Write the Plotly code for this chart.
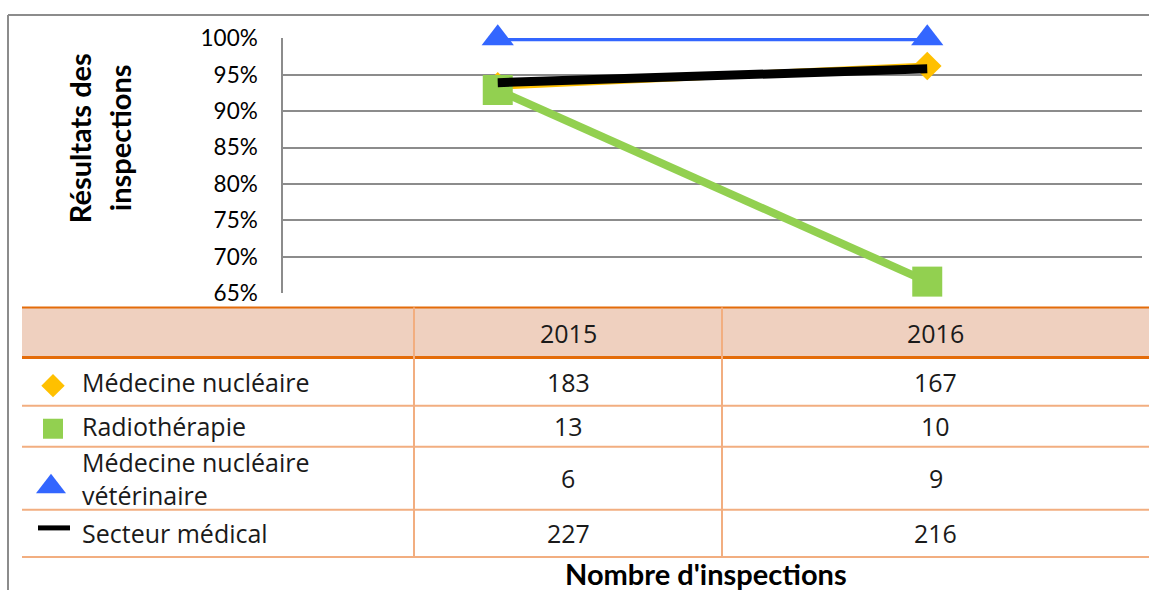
import plotly.graph_objects as go

# ---------------- data ----------------
years = ["2015", "2016"]
series_labels = ["Médecine nucléaire", "Radiothérapie",
                 "Médecine nucléaire<br>vétérinaire", "Secteur médical"]
med_nuc_pct = [93.4, 96.2]
radio_pct = [92.9, 66.6]
veto_pct = [100.0, 100.0]
secteur_pct = [93.9, 95.8]
med_nuc_n = [183, 167]
radio_n = [13, 10]
veto_n = [6, 9]
secteur_n = [227, 216]
y_ticks = [65, 70, 75, 80, 85, 90, 95, 100]
y_title_lines = ["Résultats des", "inspections"]
x_title = "Nombre d'inspections"

# ---------------- layout constants (pixels of the target picture) ----------------
W = 1149
HF, OFF = 570, 14          # rendered figure height and its vertical offset in the picture
PX0, PX1, PY_TOP, PY_BOT = 283, 1142, 38, 293
TBL_X0, COL1, COL2, TBL_X1 = 22, 414, 722, 1149
ROW_Y = [307, 357, 405, 446, 509, 556]

YELLOW, GREEN, BLUE, BLACK = "#FFC000", "#92D050", "#3366FF", "#000000"
ORANGE, ORANGE_LIGHT, HEADER_FILL = "#E46C0A", "#F2AE80", "#EFD0BF"
GRID = "#8C8C8C"


def fx(px):
    return px / W


def fy(py):
    return 1 - (py - OFF) / HF


fig = go.Figure()

line_series = [
    (series_labels[0], med_nuc_pct, YELLOW, 7, "diamond", 22),
    (series_labels[1], radio_pct, GREEN, 8, "square", 30),
    (series_labels[2], veto_pct, BLUE, 6, "triangle-up", 28),
]
for name, vals, col, lw, sym, ms in line_series:
    fig.add_trace(go.Scatter(
        x=years, y=vals, mode="lines+markers", name=name,
        line=dict(color=col, width=lw),
        marker=dict(symbol=sym, size=ms, color=col),
        cliponaxis=False, showlegend=False, xaxis="x", yaxis="y"))
fig.add_trace(go.Scatter(
    x=years, y=secteur_pct, mode="lines", name=series_labels[3],
    line=dict(color=BLACK, width=9), cliponaxis=False,
    showlegend=False, xaxis="x", yaxis="y"))

# legend icons inside the table (overlay pixel axes)
icon_specs = [
    ("diamond", YELLOW, 18, 53, 385),
    ("square", GREEN, 20, 53, 428),
    ("triangle-up", BLUE, 26, 51, 486),
]
for sym, col, ms, ix, iy in icon_specs:
    fig.add_trace(go.Scatter(
        x=[ix], y=[iy], mode="markers",
        marker=dict(symbol=sym, size=ms, color=col),
        hoverinfo="skip", showlegend=False, cliponaxis=False,
        xaxis="x2", yaxis="y2"))
fig.add_trace(go.Scatter(
    x=[38, 70], y=[527, 527], mode="lines", line=dict(color=BLACK, width=5),
    hoverinfo="skip", showlegend=False, cliponaxis=False,
    xaxis="x2", yaxis="y2"))

shapes = []
# outer frame (top edge sits at the first visible row)
shapes.append(dict(type="line", xref="paper", yref="paper",
                   x0=fx(8), x1=fx(W + 5), y0=fy(OFF + 1), y1=fy(OFF + 1),
                   line=dict(color=GRID, width=2)))
shapes.append(dict(type="line", xref="paper", yref="paper",
                   x0=fx(8), x1=fx(8), y0=fy(OFF + 1), y1=fy(OFF + HF + 5),
                   line=dict(color=GRID, width=2)))
# header fill
shapes.append(dict(type="rect", xref="paper", yref="paper",
                   x0=fx(TBL_X0), x1=fx(TBL_X1 + 5), y0=fy(ROW_Y[0]), y1=fy(ROW_Y[1]),
                   fillcolor=HEADER_FILL, line=dict(width=0), layer="below"))
# row lines
for i, ry in enumerate(ROW_Y):
    if i == 0:
        col, w = ORANGE, 2
    elif i == 1:
        col, w = ORANGE, 3
    else:
        col, w = ORANGE_LIGHT, 2
    shapes.append(dict(type="line", xref="paper", yref="paper",
                       x0=fx(TBL_X0), x1=fx(TBL_X1 + 5), y0=fy(ry), y1=fy(ry),
                       line=dict(color=col, width=w)))
# column lines
for cx in (COL1, COL2):
    shapes.append(dict(type="line", xref="paper", yref="paper",
                       x0=fx(cx), x1=fx(cx), y0=fy(ROW_Y[0]), y1=fy(ROW_Y[-1]),
                       line=dict(color=ORANGE_LIGHT, width=2)))

annotations = []
TFONT = dict(family="Open Sans", size=25, color="#1a1a1a")
col_centers = [(COL1 + COL2) / 2, (COL2 + TBL_X1) / 2]
# header years
for yr, cxc in zip(years, col_centers):
    annotations.append(dict(text=yr, xref="paper", yref="paper",
                            x=fx(cxc), y=fy((ROW_Y[0] + ROW_Y[1]) / 2),
                            showarrow=False, xanchor="center", yanchor="middle",
                            font=TFONT))
counts = [med_nuc_n, radio_n, veto_n, secteur_n]
for r, (label, vals) in enumerate(zip(series_labels, counts)):
    cy = (ROW_Y[r + 1] + ROW_Y[r + 2]) / 2
    annotations.append(dict(text=label, xref="paper", yref="paper",
                            x=fx(80), y=fy(cy), showarrow=False,
                            xanchor="left", yanchor="middle", align="left",
                            font=TFONT))
    for v, cxc in zip(vals, col_centers):
        annotations.append(dict(text=str(v), xref="paper", yref="paper",
                                x=fx(cxc), y=fy(cy), showarrow=False,
                                xanchor="center", yanchor="middle", font=TFONT))
# titles
annotations.append(dict(text="<b>%s</b>" % x_title, xref="paper", yref="paper",
                        x=fx(706), y=fy(573), showarrow=False,
                        xanchor="center", yanchor="middle",
                        font=dict(family="Lato", size=29, color="#000000")))
for t, lx in zip(y_title_lines, (79, 119)):
    annotations.append(dict(text="<b>%s</b>" % t, xref="paper", yref="paper",
                            x=fx(lx), y=fy(138), showarrow=False, textangle=-90,
                            xanchor="center", yanchor="middle",
                            font=dict(family="Lato", size=29, color="#000000")))

fig.update_layout(
    autosize=True,
    margin=dict(l=0, r=0, t=0, b=0),
    paper_bgcolor="white", plot_bgcolor="rgba(0,0,0,0)",
    xaxis=dict(domain=[fx(PX0), fx(PX1)], range=[-0.5, 1.5], type="category",
               visible=False, anchor="y"),
    yaxis=dict(domain=[fy(PY_BOT), fy(PY_TOP)], range=[64.97, 100.03],
               tickvals=y_ticks, ticktext=["%d%%" % v for v in y_ticks],
               showgrid=True, gridcolor=GRID, gridwidth=1.5, zeroline=False,
               showline=True, linecolor=GRID, linewidth=1.5,
               ticks="", ticklabelstandoff=19,
               tickfont=dict(family="Lato", size=22.5, color="#000000"),
               anchor="x"),
    xaxis2=dict(domain=[0, 1], range=[0, W], visible=False, anchor="y2"),
    yaxis2=dict(domain=[0, 1], range=[OFF + HF, OFF], visible=False, anchor="x2"),
    shapes=shapes, annotations=annotations,
)

fig.write_html(
    "out.html",
    config={"displayModeBar": False, "responsive": True},
    default_width="100vw", default_height="100vh",
    post_script="document.body.style.margin='0';document.body.style.overflow='hidden';",
)
